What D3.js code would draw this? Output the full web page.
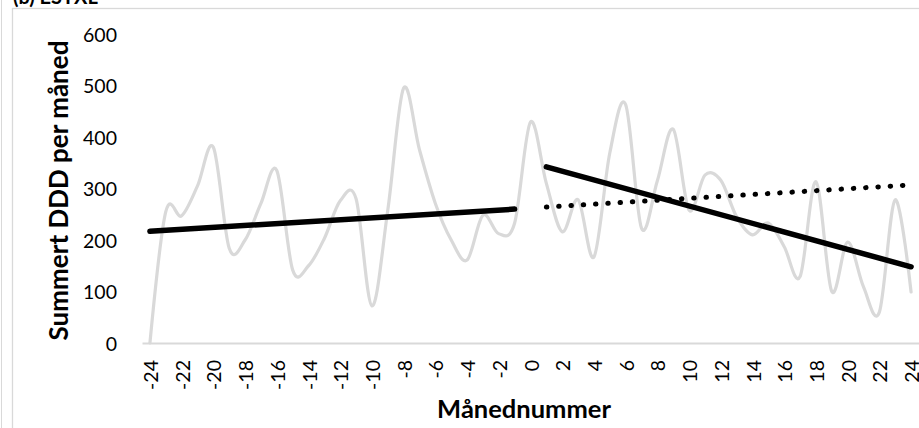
<!DOCTYPE html>
<html>
<head>
<meta charset="utf-8">
<script src="https://cdn.jsdelivr.net/npm/d3@7/dist/d3.min.js"></script>
<style>
  html, body { margin: 0; padding: 0; background: #fff; }
  svg { display: block; }
  text { font-family: Lato, "Open Sans", sans-serif; fill: #000; }
</style>
</head>
<body>
<svg id="chart" width="919" height="428"></svg>
<script>
// Month numbers relative to the intervention (month 0)
const months = [-24, -23, -22, -21, -20, -19, -18, -17, -16, -15, -14, -13, -12, -11, -10, -9, -8, -7, -6, -5, -4, -3, -2, -1,
                0, 1, 2, 3, 4, 5, 6, 7, 8, 9, 10, 11, 12, 13, 14, 15, 16, 17, 18, 19, 20, 21, 22, 23, 24];

// Summed DDD per month
const dddValues = [0, 255, 247, 305, 380, 184, 200, 271, 335, 142, 150, 203, 276, 280, 72, 258, 495, 375, 271, 200, 161, 248, 212, 233,
                   429, 310, 216, 278, 167, 369, 463, 223, 315, 415, 258, 326, 316, 245, 210, 233, 187, 129, 313, 100, 196, 109, 60, 278, 99];

// Fitted trends: before, after, and the pre-period trend projected forward
const preTrend = [[-24, 217], [-1, 260]];
const postTrend = [[1, 342], [24, 148]];
const projectedTrend = [[1, 264], [24, 307]];

const yTicks = [0, 100, 200, 300, 400, 500, 600];
const xTickLabels = [-24, -22, -20, -18, -16, -14, -12, -10, -8, -6, -4, -2, 0, 2, 4, 6, 8, 10, 12, 14, 16, 18, 20, 22, 24];

const panelTitle = "(b) ESTXL";
const yTitle = "Summert DDD per måned";
const xTitle = "Månednummer";

const svg = d3.select("#chart");

// Panel frames
svg.append("line").attr("x1", 1.5).attr("x2", 1.5).attr("y1", 0).attr("y2", 428)
  .attr("stroke", "#d9d9d9").attr("stroke-width", 1);
svg.append("rect").attr("x", 12.5).attr("y", 8.5).attr("width", 920).attr("height", 440)
  .attr("fill", "none").attr("stroke", "#d9d9d9").attr("stroke-width", 1.3);

svg.append("text").attr("x", 13).attr("y", 3.5)
  .style("font-size", "20px").style("font-weight", "bold").text(panelTitle);

const x = d3.scalePoint().domain(months).range([142, 919]).padding(0.5);
const y = d3.scaleLinear().domain([0, 600]).range([343, 34]);

// Y axis labels (no axis line)
const yAxis = d3.axisLeft(y).tickValues(yTicks).tickSize(0).tickPadding(0);
svg.append("g").attr("transform", "translate(117,0)").call(yAxis)
  .call(g => g.select(".domain").remove())
  .call(g => g.selectAll("text").attr("font-family", null).attr("font-size", null)
    .style("font-size", "19.5px").attr("dy", "0.36em"));

// X axis: baseline and rotated month labels
const xAxis = d3.axisBottom(x).tickValues(xTickLabels).tickSize(0).tickPadding(0);
svg.append("g").attr("transform", `translate(0,${y(0)})`).call(xAxis)
  .call(g => g.select(".domain").attr("stroke", "#d9d9d9").attr("stroke-width", 2))
  .call(g => g.selectAll("text").attr("font-family", null).attr("font-size", null)
    .style("font-size", "19.5px")
    .attr("text-anchor", "end").attr("dy", null).attr("y", 0)
    .attr("transform", "translate(0,17) rotate(-90)")
    .attr("dx", 0).attr("dominant-baseline", "central"));

// Monthly series, smoothed
const series = months.map((m, i) => [m, dddValues[i]]);
const smooth = d3.line().x(d => x(d[0])).y(d => y(d[1])).curve(d3.curveCardinal.tension(0));
svg.append("path").datum(series).attr("d", smooth)
  .attr("fill", "none").attr("stroke", "#d9d9d9").attr("stroke-width", 3.2)
  .attr("stroke-linejoin", "round").attr("stroke-linecap", "round");

const straight = d3.line().x(d => x(d[0])).y(d => y(d[1]));
[preTrend, postTrend].forEach(seg => {
  svg.append("path").datum(seg).attr("d", straight)
    .attr("fill", "none").attr("stroke", "#000").attr("stroke-width", 5.5)
    .attr("stroke-linecap", "round");
});
svg.append("path").datum(projectedTrend).attr("d", straight)
  .attr("fill", "none").attr("stroke", "#000").attr("stroke-width", 5)
  .attr("stroke-linecap", "round").attr("stroke-dasharray", "0.5 11.8");

// Axis titles
svg.append("text")
  .attr("transform", `translate(68,${(y(0) + y(600)) / 2 + 2}) rotate(-90)`)
  .attr("text-anchor", "middle")
  .style("font-size", "26px").style("font-weight", "bold").text(yTitle);

svg.append("text").attr("x", 524).attr("y", 418).attr("text-anchor", "middle")
  .style("font-size", "25.5px").style("font-weight", "bold").text(xTitle);
</script>
</body>
</html>
